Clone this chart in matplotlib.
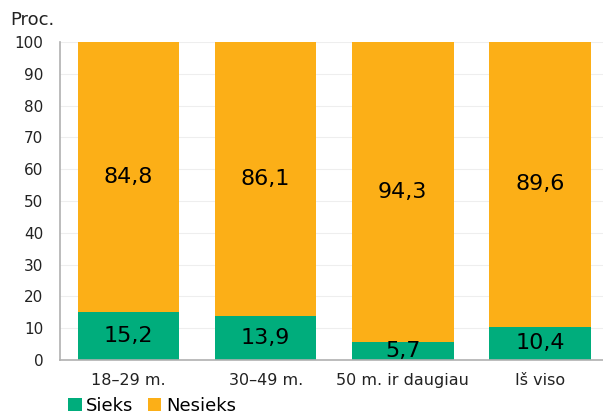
import matplotlib.pyplot as plt
import numpy as np

# data
categories = ["18\u201329 m.", "30\u201349 m.", "50 m. ir daugiau", "I\u0161 viso"]
sieks = [15.2, 13.9, 5.7, 10.4]
nesieks = [84.8, 86.1, 94.3, 89.6]

green = "#00ad7c"
orange = "#fcaf17"

fig = plt.figure(figsize=(6.03, 4.15), dpi=100)
ax = fig.add_axes([60 / 603, 55 / 415, 1 - 60 / 603, 318 / 415])

x = np.arange(len(categories))
w = 0.74
b1 = ax.bar(x, sieks, w, color=green, label="Sieks", zorder=2)
b2 = ax.bar(x, nesieks, w, bottom=sieks, color=orange, label="Nesieks", zorder=2)

for i in range(len(categories)):
    ax.text(x[i], sieks[i] / 2, f"{sieks[i]:.1f}".replace(".", ","),
            ha="center", va="center", fontsize=16, color="black", zorder=3)
    ax.text(x[i], sieks[i] + nesieks[i] / 2, f"{nesieks[i]:.1f}".replace(".", ","),
            ha="center", va="center", fontsize=16, color="black", zorder=3)

ax.set_xlim(-0.5, 3.46)
ax.set_ylim(0, 100)
ax.set_yticks(range(0, 101, 10))
ax.set_xticks(x)
ax.set_xticklabels(categories)
ax.tick_params(axis="both", length=0, colors="#222222")
ax.tick_params(axis="x", pad=9, labelsize=11.5)
ax.tick_params(axis="y", pad=12, labelsize=11)
ax.grid(axis="y", color="#eeeeee", linewidth=0.8, zorder=0)
for s in ["top", "right"]:
    ax.spines[s].set_visible(False)
ax.spines["left"].set_color("#b0b0b0")
ax.spines["bottom"].set_color("#b0b0b0")
ax.spines["left"].set_linewidth(1.2)
ax.spines["bottom"].set_linewidth(1.2)

fig.text(10 / 603, 1 - 20 / 415, "Proc.", fontsize=13, va="center", ha="left", color="#222222")

fig.legend(handles=[b1, b2], loc="center left", bbox_to_anchor=(68 / 603, 1 - 406 / 415),
           ncol=2, frameon=False, fontsize=13, handlelength=0.75, handleheight=0.75,
           handletextpad=0.25, columnspacing=0.8, borderaxespad=0, borderpad=0)

fig.savefig("out.png", dpi=100)
